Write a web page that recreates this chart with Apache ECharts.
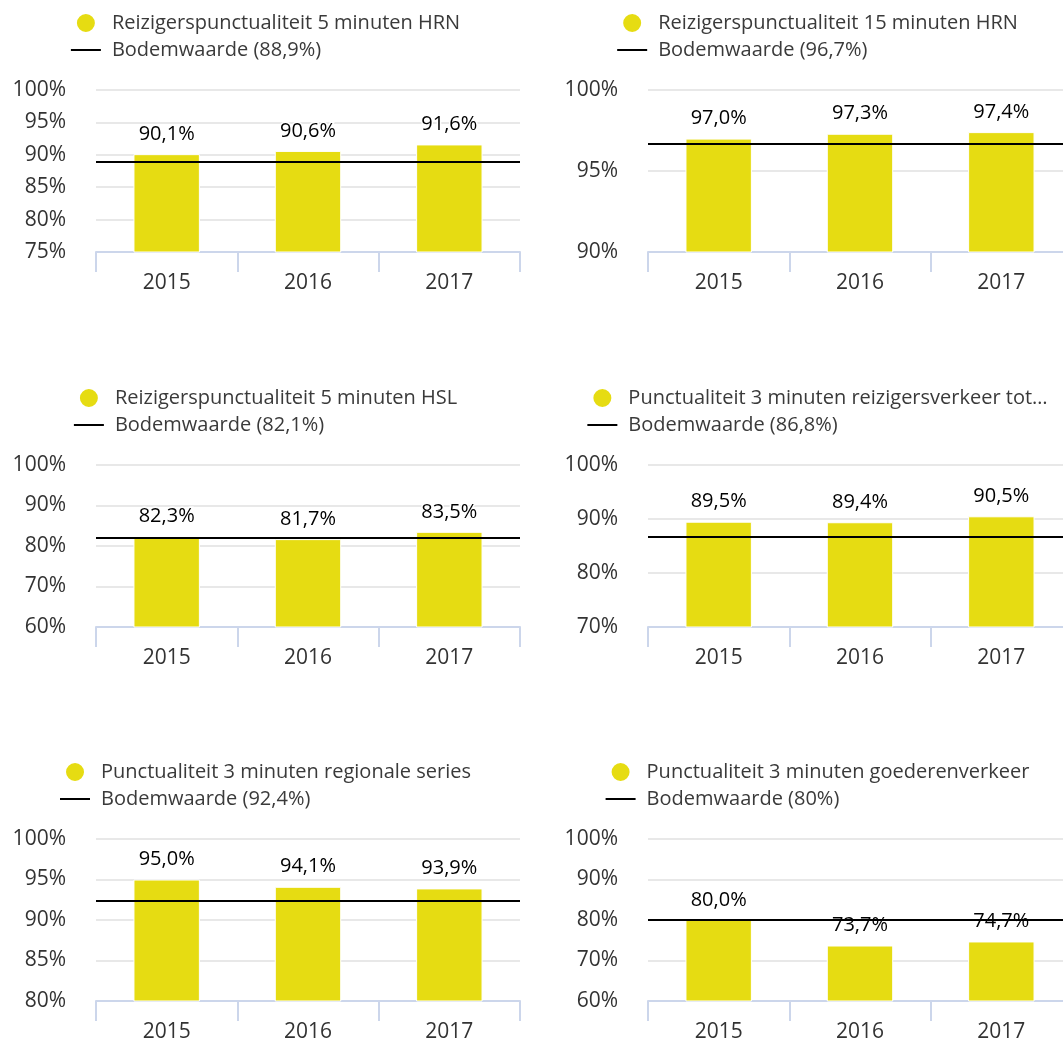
<!DOCTYPE html>
<html>
<head>
<meta charset="utf-8">
<script src="https://cdn.jsdelivr.net/npm/echarts@6/dist/echarts.min.js"></script>
<style>
  html, body { margin: 0; padding: 0; background: #fff; overflow: hidden; width: 1063px; height: 1039px; }
  .panel { position: absolute; width: 531px; height: 374px; }
</style>
</head>
<body>
<div class="panel" id="p0" style="left:0;top:0"></div>
<div class="panel" id="p1" style="left:552px;top:0"></div>
<div class="panel" id="p2" style="left:0;top:375px"></div>
<div class="panel" id="p3" style="left:552px;top:375px"></div>
<div class="panel" id="p4" style="left:0;top:749px"></div>
<div class="panel" id="p5" style="left:552px;top:749px"></div>
<script>
var years = ["2015", "2016", "2017"];

var titles = [
  "Reizigerspunctualiteit 5 minuten HRN",
  "Reizigerspunctualiteit 15 minuten HRN",
  "Reizigerspunctualiteit 5 minuten HSL",
  "Punctualiteit 3 minuten reizigersverkeer tot…",
  "Punctualiteit 3 minuten regionale series",
  "Punctualiteit 3 minuten goederenverkeer",
];
var bodemLabels = [
  "Bodemwaarde (88,9%)",
  "Bodemwaarde (96,7%)",
  "Bodemwaarde (82,1%)",
  "Bodemwaarde (86,8%)",
  "Bodemwaarde (92,4%)",
  "Bodemwaarde (80%)",
];

var hrn5 = [90.1, 90.6, 91.6];
var hrn15 = [97.0, 97.3, 97.4];
var hsl5 = [82.3, 81.7, 83.5];
var reizigers3 = [89.5, 89.4, 90.5];
var regionaal3 = [95.0, 94.1, 93.9];
var goederen3 = [80.0, 73.7, 74.7];
var values = [hrn5, hrn15, hsl5, reizigers3, regionaal3, goederen3];

var bodem = [88.9, 96.7, 82.1, 86.8, 92.4, 80];

var axisMin = [75, 90, 60, 70, 80, 60];
var axisMax = [100, 100, 100, 100, 100, 100];
var axisStep = [5, 5, 10, 10, 5, 10];

var FONT = "Open Sans";
var YELLOW = "#e6dc12";

function pct(v) {
  return v.toFixed(1).replace(".", ",") + "%";
}

function initPanel(i) {
  var myChart = echarts.init(document.getElementById("p" + i));
  var option = {
    animation: false,
    legend: {
      orient: "vertical",
      left: "center",
      top: 7,
      itemWidth: 30,
      itemHeight: 20,
      itemGap: 6,
      selectedMode: false,
      data: [
        { name: titles[i], icon: "circle" },
        // plain horizontal stroke, no dot
        { name: bodemLabels[i], icon: "path://M0,9L30,9L30,11L0,11Z" },
      ],
      textStyle: {
        fontFamily: FONT,
        fontSize: 20,
        color: "#3a3a3a",
        lineHeight: 20,
        padding: [0, 0, 0, 6],
      },
    },
    grid: { left: 96, top: 90, width: 424, height: 162 },
    xAxis: {
      type: "category",
      data: years,
      axisLine: { lineStyle: { color: "#ccd6eb", width: 2 } },
      axisTick: { show: true, length: 20, lineStyle: { color: "#ccd6eb", width: 2 } },
      axisLabel: { margin: 21, fontFamily: FONT, fontSize: 21, color: "#333" },
    },
    yAxis: {
      type: "value",
      min: axisMin[i],
      max: axisMax[i],
      interval: axisStep[i],
      axisLine: { show: false },
      axisTick: { show: false },
      splitLine: { lineStyle: { color: "#e8e8e8", width: 2 } },
      axisLabel: {
        margin: 30,
        padding: [5, 0, 0, 0],
        fontFamily: FONT,
        fontSize: 21,
        color: "#333",
        formatter: "{value}%",
      },
    },
    series: [
      {
        name: titles[i],
        type: "bar",
        data: values[i],
        barWidth: "47%",
        z: 2,
        itemStyle: { color: YELLOW, borderColor: "#fff", borderWidth: 1 },
        emphasis: { disabled: true },
      },
      {
        name: bodemLabels[i],
        type: "line",
        data: [],
        symbol: "none",
        z: 3,
        lineStyle: { color: "#000", width: 2 },
        itemStyle: { color: "#000" },
        markLine: {
          silent: true,
          symbol: "none",
          label: { show: false },
          lineStyle: { color: "#000", width: 2, type: "solid" },
          data: [{ yAxis: bodem[i] }],
        },
      },
      {
        // labels on top of the bodemwaarde line
        name: "labels",
        type: "bar",
        data: values[i],
        barWidth: "47%",
        barGap: "-100%",
        z: 4,
        itemStyle: { color: "rgba(0,0,0,0)" },
        emphasis: { disabled: true },
        label: {
          show: true,
          position: "top",
          distance: 10,
          fontFamily: FONT,
          fontSize: 20,
          color: "#000",
          textBorderColor: "#fff",
          textBorderWidth: 3,
          formatter: function (p) {
            return pct(p.value);
          },
        },
      },
    ],
  };
  myChart.setOption(option);
}

for (var i = 0; i < 6; i++) {
  initPanel(i);
}
</script>
</body>
</html>
